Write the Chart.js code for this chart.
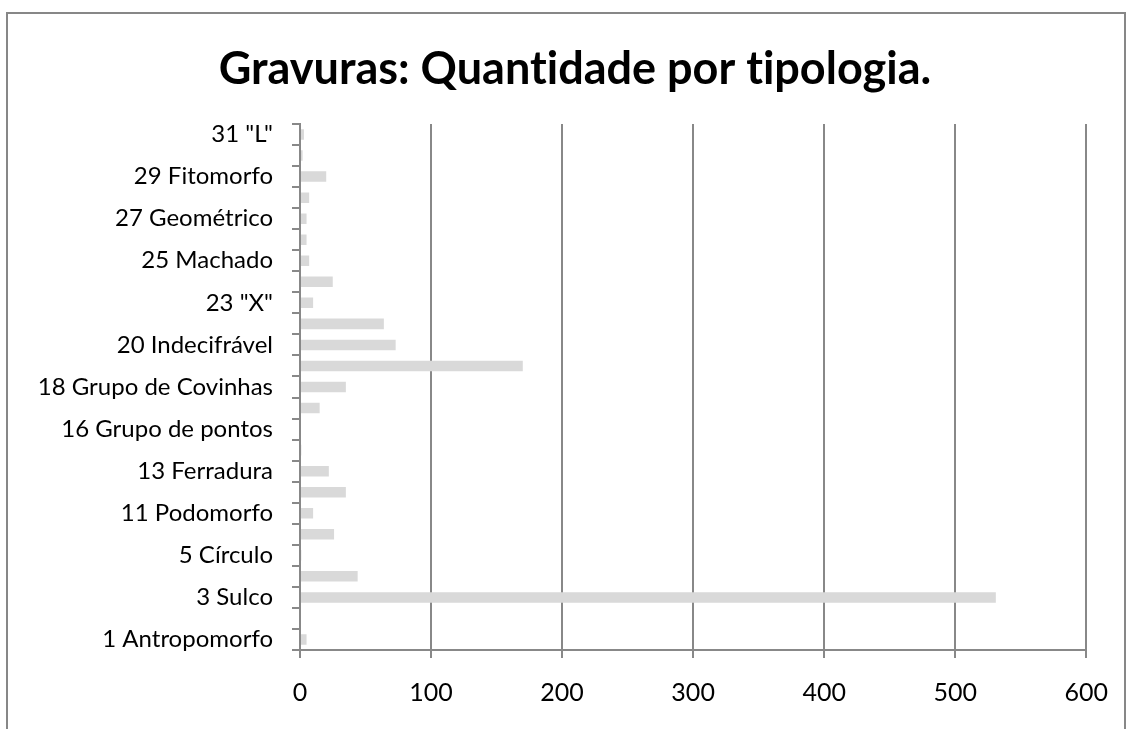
<!DOCTYPE html>
<html>
<head>
<meta charset="utf-8">
<script src="https://cdn.jsdelivr.net/npm/chart.js@4/dist/chart.umd.min.js"></script>
<style>
  body { margin: 0; background: #fff; overflow: hidden; }
  #frame {
    position: absolute; left: 6px; top: 12px;
    width: 1116px; height: 800px;
    border: 2px solid #878787;
  }
  #chart { position: absolute; left: 0; top: 0; }
</style>
</head>
<body>
<div id="frame"></div>
<canvas id="chart" width="1128" height="729"></canvas>
<script>
// categories listed bottom to top; only every other one gets a label on the axis
const categories = [
    '1 Antropomorfo', '2', '3 Sulco', '4', '5 Círculo', '6',
    '11 Podomorfo', '12', '13 Ferradura', '14', '16 Grupo de pontos', '17',
    '18 Grupo de Covinhas', '19', '20 Indecifrável', '21', '23 "X"', '24',
    '25 Machado', '26', '27 Geométrico', '28', '29 Fitomorfo', '30', '31 "L"'
];
const quantities = [
    5, 0, 531, 44, 1, 26,
    10, 35, 22, 1, 0, 15,
    35, 170, 73, 64, 10, 25,
    7, 5, 5, 7, 20, 2, 3
];
const xTicks = [0, 100, 200, 300, 400, 500, 600];

const axisGray = '#888888';
const font = 'Lato';

// the long category names reach past the left padding, so widen the
// area the y labels are clipped to once the layout is done
const labelRoom = {
    id: 'labelRoom',
    afterLayout: function (chart) {
        chart.scales.y.left = 0;
    }
};

let canvas = document.getElementById('chart'),
    ctx = canvas.getContext('2d');

new Chart(ctx, {
    type: 'bar',
    data: {
        labels: categories,
        datasets: [{
            data: quantities,
            backgroundColor: '#d9d9d9',
            borderWidth: 0,
            barPercentage: 0.5,
            categoryPercentage: 1
        }]
    },
    plugins: [labelRoom],
    options: {
        indexAxis: 'y',
        responsive: false,
        animation: false,
        layout: { padding: { left: 59, right: 37, top: 0, bottom: 0 } },
        plugins: {
            legend: { display: false },
            tooltip: { enabled: false },
            title: {
                display: true,
                // zero-width non-joiners keep Lato from drawing its "ti" ligature
                text: 'Gravuras: Quant\u200Cidade por t\u200Cipologia.',
                color: '#000',
                font: { family: font, size: 45, weight: 'bold', lineHeight: 1.2 },
                padding: { top: 42, bottom: 28 }
            }
        },
        scales: {
            x: {
                min: xTicks[0],
                max: xTicks[xTicks.length - 1],
                afterBuildTicks: function (scale) {
                    scale.ticks = xTicks.map(v => ({ value: v }));
                },
                afterFit: function (scale) { scale.height = 79; },
                border: { color: axisGray, width: 2 },
                grid: { color: axisGray, lineWidth: 2, tickLength: 8 },
                ticks: {
                    color: '#000',
                    padding: 20,
                    font: { family: font, size: 25 }
                }
            },
            y: {
                reverse: true,
                afterFit: function (scale) { scale.width = 241; },
                border: { color: axisGray, width: 2 },
                grid: {
                    offset: true,
                    drawOnChartArea: false,
                    color: axisGray,
                    lineWidth: 2,
                    tickLength: 8
                },
                ticks: {
                    autoSkip: false,
                    color: '#000',
                    padding: 19,
                    font: { family: font, size: 24 },
                    callback: function (value, index) {
                        return index % 2 === 0 ? this.getLabelForValue(value) : '';
                    }
                }
            }
        }
    }
});
</script>
</body>
</html>
